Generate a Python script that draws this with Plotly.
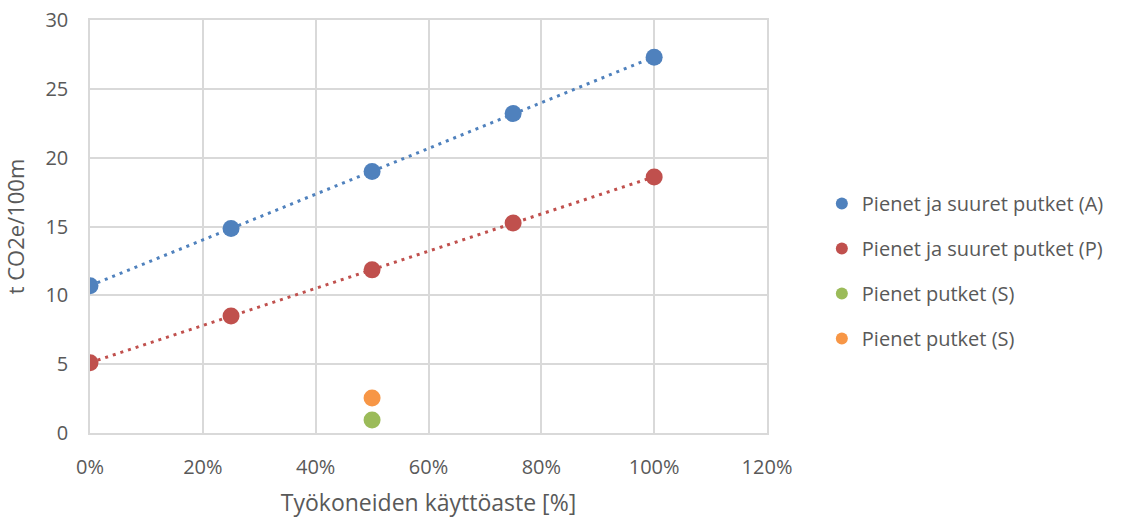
import numpy as np
import plotly.graph_objects as go

# Utilisation rates (share of full use) and emissions, t CO2e per 100 m
kayttoaste = [0.0, 0.25, 0.5, 0.75, 1.0]
putket_a = [10.7, 14.85, 19.0, 23.2, 27.3]
putket_p = [5.1, 8.5, 11.85, 15.25, 18.6]
pienet_s_x = [0.5]
pienet_s_vihrea = [0.95]
pienet_s_oranssi = [2.55]

series_names = [
    "Pienet ja suuret putket (A)",
    "Pienet ja suuret putket (P)",
    "Pienet putket (S)",
    "Pienet putket (S)",
]
x_ticks = [0, 0.2, 0.4, 0.6, 0.8, 1.0, 1.2]
y_ticks = [0, 5, 10, 15, 20, 25, 30]

BLUE = "#4F81BD"
RED = "#C0504D"
GREEN = "#9BBB59"
ORANGE = "#F79646"
TEXT = "#595959"
GRID = "#D9D9D9"
FONT = "Open Sans"

fig = go.Figure()

# Linear trend lines fitted to the two full series
for ys, col in [(putket_a, BLUE), (putket_p, RED)]:
    k, b = np.polyfit(kayttoaste, ys, 1)
    xs = np.array([kayttoaste[0], kayttoaste[-1]])
    fig.add_trace(go.Scatter(
        x=xs, y=k * xs + b, mode="lines",
        line=dict(color=col, width=3, dash="3px,5px"),
        showlegend=False, hoverinfo="skip",
    ))

point_sets = [
    (kayttoaste, putket_a, BLUE, series_names[0]),
    (kayttoaste, putket_p, RED, series_names[1]),
    (pienet_s_x, pienet_s_vihrea, GREEN, series_names[2]),
    (pienet_s_x, pienet_s_oranssi, ORANGE, series_names[3]),
]
for i, (xs, ys, col, name) in enumerate(point_sets):
    fig.add_trace(go.Scatter(
        x=xs, y=ys, mode="markers", name=name,
        marker=dict(color=col, size=17, line=dict(width=0)),
        legendgroup=f"g{i}",
    ))

fig.update_layout(
    width=1125, height=518,
    margin=dict(l=90, r=358, t=20, b=85, autoexpand=False),
    paper_bgcolor="white", plot_bgcolor="white",
    font=dict(family=FONT, color=TEXT, size=20),
    legend=dict(
        x=1.081, xanchor="left", y=0.392, yanchor="middle",
        font=dict(family=FONT, size=20, color=TEXT),
        tracegroupgap=16, itemsizing="constant", itemwidth=30,
        bgcolor="rgba(0,0,0,0)",
    ),
    showlegend=True,
)

fig.update_xaxes(
    range=[0, 1.2], tickvals=x_ticks, tickformat=".0%",
    showgrid=True, gridcolor=GRID, gridwidth=1.5,
    showline=True, linecolor=GRID, linewidth=1.5, mirror=True,
    zeroline=False, ticks="outside", ticklen=15, tickcolor="rgba(0,0,0,0)",
    tickfont=dict(family=FONT, size=20, color=TEXT), automargin=False,
    title=dict(text="Työkoneiden käyttöaste [%]", font=dict(family=FONT, size=23, color=TEXT), standoff=18),
)
fig.update_yaxes(
    range=[0, 30], tickvals=y_ticks,
    showgrid=True, gridcolor=GRID, gridwidth=1.5,
    showline=True, linecolor=GRID, linewidth=1.5, mirror=True,
    zeroline=False, ticks="outside", ticklen=16, tickcolor="rgba(0,0,0,0)",
    tickfont=dict(family=FONT, size=20, color=TEXT), automargin=False,
    title=dict(text="t CO2e/100m", font=dict(family=FONT, size=22, color=TEXT), standoff=16),
)

fig.write_html("out.html")
